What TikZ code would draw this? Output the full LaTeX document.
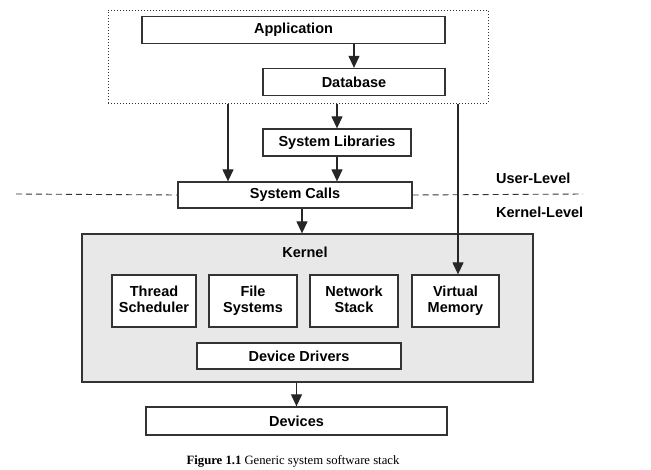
\documentclass[tikz,border=0pt]{standalone}
\usepackage{fontspec}
\setmainfont{Liberation Serif}
\setsansfont{Liberation Sans}
\usetikzlibrary{positioning}
\usetikzlibrary{arrows.meta}
\definecolor{edge}{HTML}{333333}
\definecolor{kgray}{HTML}{E8E8E8}
\newcommand{\twolines}[2]{\strut#1\\\strut#2}

\begin{document}
\begin{tikzpicture}[x=1pt,y=-1pt,
  box/.style={draw=edge,line width=1.3pt,fill=white,inner sep=0pt,font=\sffamily\bfseries\fontsize{14.5}{16}\selectfont,align=center},
  arr/.style={draw=black!85,line width=1.2pt,-{Triangle[length=12pt,width=11pt]}},
  lvl/.style={font=\sffamily\bfseries\fontsize{14.5}{16}\selectfont,anchor=west,inner sep=0pt}]
\useasboundingbox (0,0) rectangle (651,469);
%user side
\node [draw=edge,dotted,line width=1pt,minimum width=380pt,minimum height=93pt,inner sep=0pt] (user) at (298,56.5) {};
\node [box,minimum width=303pt,minimum height=27pt] (app) at (293.5,30) {Application};
\node [box,minimum width=182pt,minimum height=27pt] (db) at (354,82) {Database};
\node [box,minimum width=148pt,minimum height=27pt] (lib) at (337,142.5) {System Libraries};
\node [box,minimum width=234pt,minimum height=26pt] (sc) at (295,195) {System Calls};
\coordinate (tapl) at (228,0);
\coordinate (tapr) at (458,0);
\coordinate (tapk) at (302,0);
\coordinate (lend) at (16,194);
\coordinate (rend) at (583,194);
\node [lvl] (ul) at (496,178) {User-Level};
\node [lvl] (kl) at (496,212) {Kernel-Level};
%kernel
\node [box,fill=kgray,minimum width=451pt,minimum height=148pt] (kernel) at (307.5,308) {};
\node [font=\sffamily\bfseries\fontsize{14.5}{16}\selectfont] (klab) at (305,252) {Kernel};
\node [box,minimum width=84pt,minimum height=52pt] (thr) at (154,301) {\twolines{Thread}{Scheduler}};
\node [box,minimum width=88pt,minimum height=52pt] (fs) at (253,301) {\twolines{File}{Systems}};
\node [box,minimum width=88pt,minimum height=52pt] (net) at (354,301) {\twolines{Network}{Stack}};
\node [box,minimum width=87pt,minimum height=52pt] (vm) at (455.5,301) {\twolines{Virtual}{Memory}};
\node [box,minimum width=204pt,minimum height=26pt] (drv) at (299,356) {Device Drivers};
\node [box,minimum width=301pt,minimum height=28pt] (dev) at (296.5,421) {Devices};
%
\draw [arr] (app.south -| db) -- (db.north);
\draw [arr] (user.south -| lib) -- (lib.north);
\draw [arr] (lib.south) -- (lib.south |- sc.north);
\draw [arr] (user.south -| tapl) -- (tapl |- sc.north);
\draw [arr] (user.south -| tapr) -- (tapr |- vm.north);
\draw [arr] (sc.south -| tapk) -- (tapk |- kernel.north);
\draw [arr] (kernel.south -| dev) -- (dev.north);
\draw [edge,line width=0.9pt,dash pattern=on 6pt off 4pt] (lend) -- (sc.west);
\draw [edge,line width=0.9pt,dash pattern=on 6pt off 4pt] (sc.east) -- (rend);
\node [font=\fontsize{12.7}{14}\selectfont,inner sep=1pt] (cap) at (293,461) {\textbf{Figure 1.1} Generic system software stack};
\end{tikzpicture}
\end{document}
